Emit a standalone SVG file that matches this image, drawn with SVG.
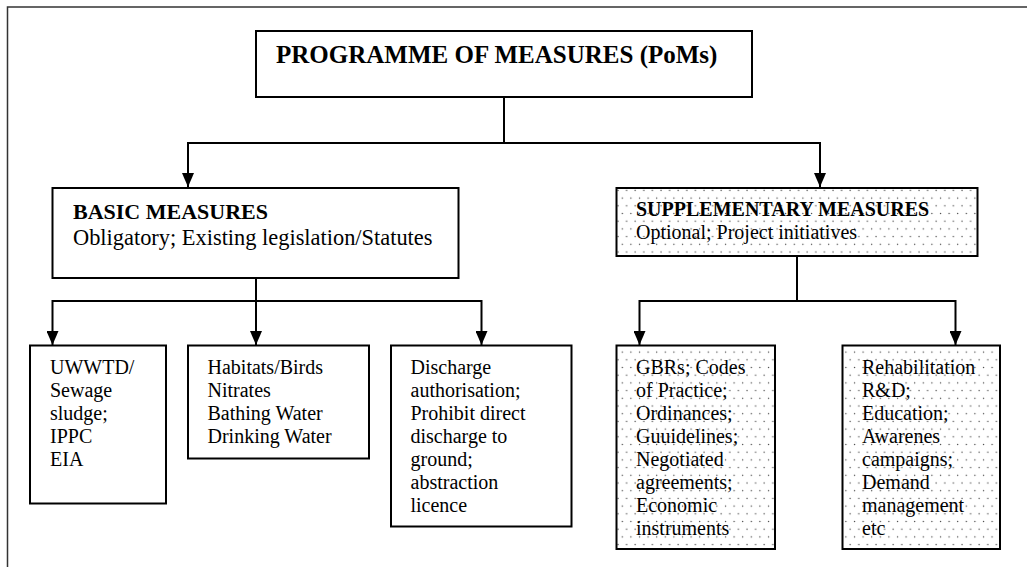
<svg xmlns="http://www.w3.org/2000/svg" width="1036" height="567" viewBox="0 0 1036 567">
<style>
.box{fill:#fff;stroke:#000;stroke-width:2}
.dotted{fill:url(#dots);stroke:#000;stroke-width:2}
.conn{fill:none;stroke:#000;stroke-width:2;marker-end:url(#arrow)}
text{font-family:"Liberation Serif","Times New Roman",serif;fill:#000}
.t20{font-size:20px}
.t22{font-size:22px}
.b{font-weight:bold}
</style>
<defs>
<pattern id="dots" patternUnits="userSpaceOnUse" x="616" y="188" width="8.6" height="15.4">
<rect width="8.6" height="15.4" fill="#fff"/>
<circle cx="2" cy="2.5" r="0.7" fill="#444"/>
<circle cx="6.3" cy="10.2" r="0.7" fill="#444"/>
</pattern>
<marker id="arrow" viewBox="0 0 14 12" refX="14" refY="6" markerWidth="14" markerHeight="12" markerUnits="userSpaceOnUse" orient="auto">
<path d="M0,0 L14,6 L0,12 z" fill="#000"/>
</marker>
</defs>
<g id="frame">
<path d="M7.5,567 V7 H1027" fill="none" stroke="#333" stroke-width="1.5"/>
</g>
<g id="connectors">
<path class="conn" d="M504,97 V143 H188 V187"/>
<path class="conn" d="M504,143 H820 V187"/>
<path class="conn" d="M256,278 V301 H52.5 V345"/>
<path class="conn" d="M256,301 V345"/>
<path class="conn" d="M256,301 H481.5 V345"/>
<path class="conn" d="M797,256 V301 H639.5 V345"/>
<path class="conn" d="M797,301 H955.5 V345"/>
</g>
<g id="pom">
<rect class="box" x="256" y="31" width="496" height="66"/>
<text class="b" x="276" y="63" font-size="25">PROGRAMME OF MEASURES (PoMs)</text>
</g>
<g id="basic">
<rect class="box" x="52.5" y="188" width="406" height="90"/>
<text class="t22 b" x="73" y="219">BASIC MEASURES</text>
<text x="73" y="245" font-size="22.4">Obligatory; Existing legislation/Statutes</text>
</g>
<g id="supplementary">
<rect class="dotted" x="616.5" y="188" width="361" height="68"/>
<text class="t20 b" x="636" y="215.5">SUPPLEMENTARY MEASURES</text>
<text class="t20" x="636" y="239">Optional; Project initiatives</text>
</g>
<g id="uwwtd">
<rect class="box" x="30" y="345.5" width="136" height="158"/>
<text class="t20"><tspan x="50" y="374">UWWTD/</tspan><tspan x="50" y="397">Sewage</tspan><tspan x="50" y="420">sludge;</tspan><tspan x="50" y="443">IPPC</tspan><tspan x="50" y="466">EIA</tspan></text>
</g>
<g id="habitats">
<rect class="box" x="188" y="345.5" width="181" height="113"/>
<text class="t20"><tspan x="207.5" y="374">Habitats/Birds</tspan><tspan x="207.5" y="397">Nitrates</tspan><tspan x="207.5" y="420">Bathing Water</tspan><tspan x="207.5" y="443">Drinking Water</tspan></text>
</g>
<g id="discharge">
<rect class="box" x="391" y="345.5" width="180.5" height="181"/>
<text class="t20"><tspan x="410.5" y="374">Discharge</tspan><tspan x="410.5" y="397">authorisation;</tspan><tspan x="410.5" y="420">Prohibit direct</tspan><tspan x="410.5" y="443">discharge to</tspan><tspan x="410.5" y="466">ground;</tspan><tspan x="410.5" y="489">abstraction</tspan><tspan x="410.5" y="512">licence</tspan></text>
</g>
<g id="gbrs">
<rect class="dotted" x="616.5" y="345.5" width="158.5" height="203.5"/>
<text class="t20"><tspan x="636" y="374">GBRs; Codes</tspan><tspan x="636" y="397">of Practice;</tspan><tspan x="636" y="420">Ordinances;</tspan><tspan x="636" y="443">Guuidelines;</tspan><tspan x="636" y="466">Negotiated</tspan><tspan x="636" y="489">agreements;</tspan><tspan x="636" y="512">Economic</tspan><tspan x="636" y="535">instruments</tspan></text>
</g>
<g id="rehabilitation">
<rect class="dotted" x="842.5" y="345.5" width="157.5" height="203.5"/>
<text class="t20"><tspan x="862" y="374">Rehabilitation</tspan><tspan x="862" y="397">R&amp;D;</tspan><tspan x="862" y="420">Education;</tspan><tspan x="862" y="443">Awarenes</tspan><tspan x="862" y="466">campaigns;</tspan><tspan x="862" y="489">Demand</tspan><tspan x="862" y="512">management</tspan><tspan x="862" y="535">etc</tspan></text>
</g>
</svg>
